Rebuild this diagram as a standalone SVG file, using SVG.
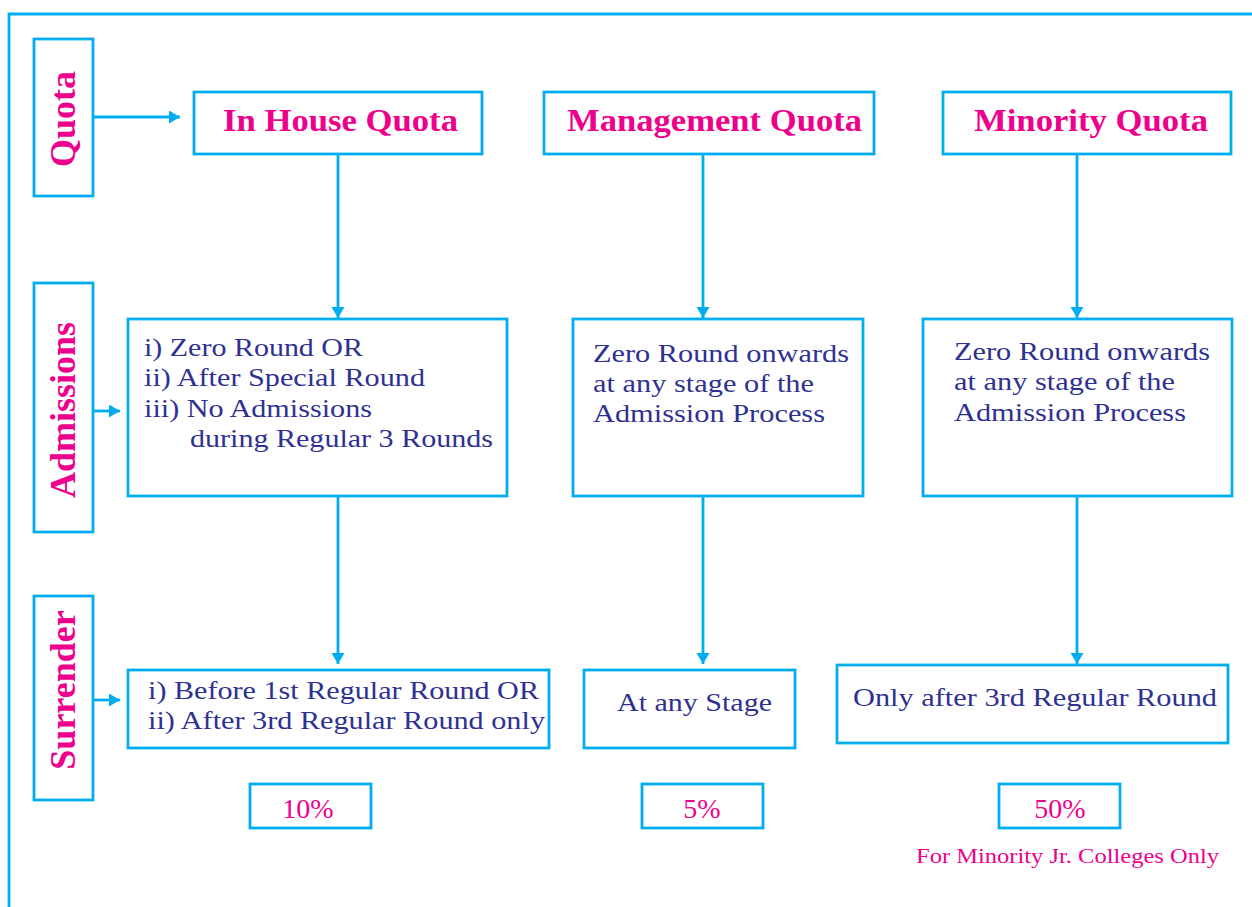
<svg xmlns="http://www.w3.org/2000/svg" width="1252" height="907" viewBox="0 0 1252 907">
<defs>
<style>
.box{fill:#ffffff;stroke:#00aeef;stroke-width:2.8}
.frame{fill:none;stroke:#00aeef;stroke-width:2.8}
.con{fill:none;stroke:#00aeef;stroke-width:2.8}
.lbl{font-family:"Liberation Serif","Times New Roman",serif;font-weight:bold;font-size:36px;fill:#ec008c}
.ttl{font-family:"Liberation Serif","Times New Roman",serif;font-weight:bold;font-size:32px;fill:#ec008c}
.body{font-family:"Liberation Serif","Times New Roman",serif;font-size:26px;fill:#2e3192}
.pct{font-family:"Liberation Serif","Times New Roman",serif;font-size:28px;fill:#ec008c}
.note{font-family:"Liberation Serif","Times New Roman",serif;font-size:21px;fill:#ec008c}
</style>
<marker id="ah" markerUnits="userSpaceOnUse" markerWidth="14" markerHeight="14" refX="11" refY="6.5" orient="auto">
<path d="M0,0 L11,6.5 L0,13 Z" fill="#00aeef"/>
</marker>
</defs>
<rect width="1252" height="907" fill="#ffffff"/>
<path class="frame" d="M9,907 L9,14 L1252,14"/>

<g id="connectors">
<line class="con" x1="93" y1="117" x2="180" y2="117" marker-end="url(#ah)"/>
<line class="con" x1="93" y1="411" x2="120" y2="411" marker-end="url(#ah)"/>
<line class="con" x1="93" y1="700" x2="120" y2="700" marker-end="url(#ah)"/>
<line class="con" x1="338" y1="154" x2="338" y2="318" marker-end="url(#ah)"/>
<line class="con" x1="703" y1="154" x2="703" y2="318" marker-end="url(#ah)"/>
<line class="con" x1="1077" y1="154" x2="1077" y2="318" marker-end="url(#ah)"/>
<line class="con" x1="338" y1="496" x2="338" y2="664" marker-end="url(#ah)"/>
<line class="con" x1="703" y1="496" x2="703" y2="664" marker-end="url(#ah)"/>
<line class="con" x1="1077" y1="496" x2="1077" y2="664" marker-end="url(#ah)"/>
</g>

<g id="label-quota">
<rect class="box" x="34" y="39" width="59" height="157"/>
<text class="lbl" text-anchor="middle" transform="translate(75,119) rotate(-90)">Quota</text>
</g>
<g id="label-admissions">
<rect class="box" x="34" y="283" width="59" height="249"/>
<text class="lbl" text-anchor="middle" transform="translate(75,410) rotate(-90)">Admissions</text>
</g>
<g id="label-surrender">
<rect class="box" x="34" y="596" width="59" height="204"/>
<text class="lbl" text-anchor="middle" transform="translate(75,690) rotate(-90)">Surrender</text>
</g>

<g id="inhouse-quota">
<rect class="box" x="194" y="92" width="288" height="62"/>
<text class="ttl" x="223" y="131" textLength="235" lengthAdjust="spacingAndGlyphs">In House Quota</text>
</g>
<g id="management-quota">
<rect class="box" x="544" y="92" width="330" height="62"/>
<text class="ttl" x="567" y="131" textLength="295" lengthAdjust="spacingAndGlyphs">Management Quota</text>
</g>
<g id="minority-quota">
<rect class="box" x="943" y="92" width="288" height="62"/>
<text class="ttl" x="974" y="131" textLength="234" lengthAdjust="spacingAndGlyphs">Minority Quota</text>
</g>

<g id="inhouse-admissions">
<rect class="box" x="128" y="319" width="379" height="177"/>
<text class="body" x="144" y="356" textLength="219" lengthAdjust="spacingAndGlyphs">i) Zero Round OR</text>
<text class="body" x="144" y="386" textLength="281" lengthAdjust="spacingAndGlyphs">ii) After Special Round</text>
<text class="body" x="144" y="417" textLength="228" lengthAdjust="spacingAndGlyphs">iii) No Admissions</text>
<text class="body" x="190" y="447" textLength="303" lengthAdjust="spacingAndGlyphs">during Regular 3 Rounds</text>
</g>
<g id="management-admissions">
<rect class="box" x="573" y="319" width="290" height="177"/>
<text class="body" x="593" y="362" textLength="256" lengthAdjust="spacingAndGlyphs">Zero Round onwards</text>
<text class="body" x="593" y="392" textLength="221" lengthAdjust="spacingAndGlyphs">at any stage of the</text>
<text class="body" x="593" y="422" textLength="232" lengthAdjust="spacingAndGlyphs">Admission Process</text>
</g>
<g id="minority-admissions">
<rect class="box" x="923" y="319" width="309" height="177"/>
<text class="body" x="954" y="360" textLength="256" lengthAdjust="spacingAndGlyphs">Zero Round onwards</text>
<text class="body" x="954" y="390" textLength="221" lengthAdjust="spacingAndGlyphs">at any stage of the</text>
<text class="body" x="954" y="421" textLength="232" lengthAdjust="spacingAndGlyphs">Admission Process</text>
</g>

<g id="inhouse-surrender">
<rect class="box" x="128" y="670" width="421" height="78"/>
<text class="body" x="148" y="699" textLength="391" lengthAdjust="spacingAndGlyphs">i) Before 1st Regular Round OR</text>
<text class="body" x="148" y="729" textLength="397" lengthAdjust="spacingAndGlyphs">ii) After 3rd Regular Round only</text>
</g>
<g id="management-surrender">
<rect class="box" x="584" y="670" width="211" height="78"/>
<text class="body" x="617" y="711" textLength="155" lengthAdjust="spacingAndGlyphs">At any Stage</text>
</g>
<g id="minority-surrender">
<rect class="box" x="837" y="665" width="391" height="78"/>
<text class="body" x="853" y="706" textLength="364" lengthAdjust="spacingAndGlyphs">Only after 3rd Regular Round</text>
</g>

<g id="pct-inhouse">
<rect class="box" x="250" y="784" width="121" height="44"/>
<text class="pct" x="308" y="818" text-anchor="middle">10%</text>
</g>
<g id="pct-management">
<rect class="box" x="642" y="784" width="121" height="44"/>
<text class="pct" x="702" y="818" text-anchor="middle">5%</text>
</g>
<g id="pct-minority">
<rect class="box" x="999" y="784" width="121" height="44"/>
<text class="pct" x="1060" y="818" text-anchor="middle">50%</text>
</g>

<g id="footnote">
<text class="note" x="916" y="863" textLength="303" lengthAdjust="spacingAndGlyphs">For Minority Jr. Colleges Only</text>
</g>
</svg>
